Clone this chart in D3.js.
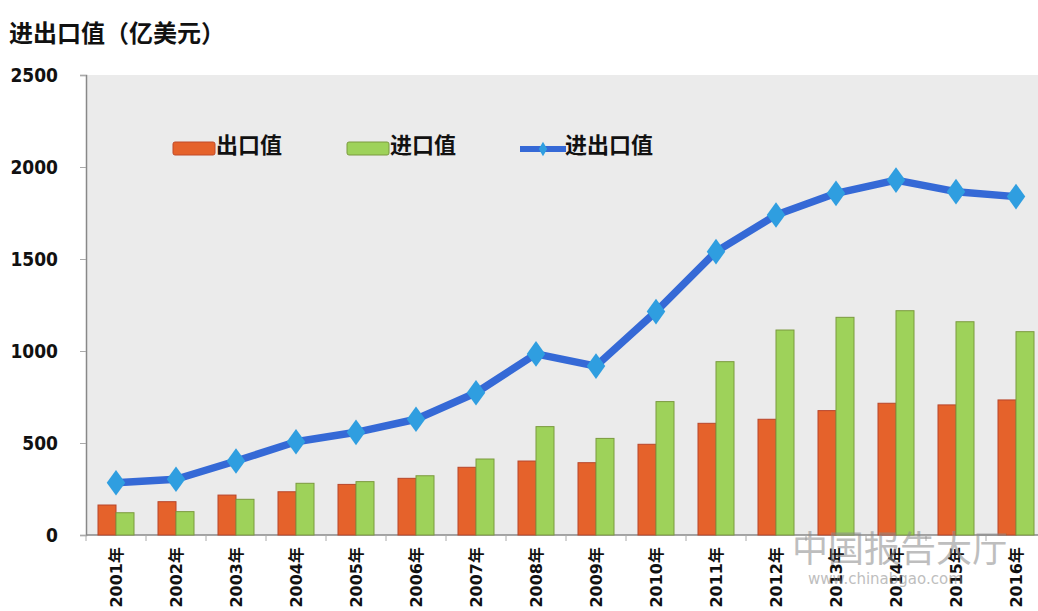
<!DOCTYPE html>
<html>
<head>
<meta charset="utf-8">
<script src="https://cdn.jsdelivr.net/npm/d3@7"></script>
<style>
  body { margin: 0; background: #fff; }
  svg { display: block; }
</style>
</head>
<body>
<div id="chart"></div>
<script>
const years = ['2001年', '2002年', '2003年', '2004年', '2005年', '2006年', '2007年', '2008年',
               '2009年', '2010年', '2011年', '2012年', '2013年', '2014年', '2015年', '2016年'];
const exportValues = [163, 181, 217, 235, 275, 308, 368, 402, 393, 493, 607, 629, 676, 716, 707, 734];
const importValues = [121, 127, 194, 281, 290, 322, 413, 589, 525, 725, 942, 1114, 1183, 1219, 1159, 1105];
const totalValues = [284, 303, 402, 507, 558, 629, 773, 984, 918, 1214, 1540, 1739, 1857, 1929, 1866, 1839];
const yTicks = [0, 500, 1000, 1500, 2000, 2500];

const width = 1038, height = 611;
const plotLeft = 86, plotTop = 75, plotBottom = 535;

const svg = d3.select('#chart').append('svg')
    .attr('width', width)
    .attr('height', height);

const x = d3.scaleBand().domain(years).range([plotLeft, plotLeft + 960]).padding(0);
const y = d3.scaleLinear().domain([0, 2500]).range([plotBottom, plotTop]);

const cjk = '"Noto Sans CJK SC", "Noto Sans", sans-serif';

// plot background
svg.append('rect')
    .attr('x', plotLeft).attr('y', plotTop)
    .attr('width', width - plotLeft).attr('height', plotBottom - plotTop)
    .attr('fill', '#ebebeb');

// title
svg.append('text')
    .attr('x', 9).attr('y', 42)
    .style('font-family', cjk)
    .style('font-weight', 'bold')
    .style('font-size', '24px')
    .attr('fill', '#111')
    .text('进出口值（亿美元）');

// y axis
const yAxis = svg.append('g')
    .attr('transform', `translate(${plotLeft},0)`)
    .call(d3.axisLeft(y).tickValues(yTicks).tickSize(6).tickPadding(22).tickFormat(d3.format('d')));
yAxis.select('.domain').attr('stroke', '#888').attr('stroke-width', 1.5);
yAxis.selectAll('.tick line').attr('stroke', '#aaa');
yAxis.selectAll('text')
    .style('font-family', '"DejaVu Sans Condensed", "DejaVu Sans", sans-serif')
    .style('font-weight', 'bold')
    .style('font-size', '19px')
    .attr('fill', '#111');

// x axis: ticks at category boundaries
svg.append('line')
    .attr('x1', plotLeft).attr('x2', width)
    .attr('y1', plotBottom).attr('y2', plotBottom)
    .attr('stroke', '#888').attr('stroke-width', 1.5);
svg.append('g').selectAll('line')
    .data(years)
    .join('line')
    .attr('x1', d => x(d)).attr('x2', d => x(d))
    .attr('y1', plotBottom).attr('y2', plotBottom + 6)
    .attr('stroke', '#aaa');

svg.append('g').selectAll('text')
    .data(years)
    .join('text')
    .attr('transform', d => `translate(${x(d) + x.bandwidth() / 2 + 6},547) rotate(-90)`)
    .attr('text-anchor', 'end')
    .style('font-family', '"DejaVu Sans", ' + cjk)
    .style('font-weight', 'bold')
    .style('font-size', '16px')
    .attr('fill', '#111')
    .text(d => d);

// bars
const barW = 18;
const bars = svg.append('g');
bars.selectAll('.exp')
    .data(exportValues)
    .join('rect')
    .attr('class', 'exp')
    .attr('x', (d, i) => x(years[i]) + x.bandwidth() / 2 - barW)
    .attr('y', d => y(d))
    .attr('width', barW)
    .attr('height', d => plotBottom - y(d))
    .attr('fill', '#e5622b')
    .attr('stroke', '#b8452a')
    .attr('stroke-width', 1);
bars.selectAll('.imp')
    .data(importValues)
    .join('rect')
    .attr('class', 'imp')
    .attr('x', (d, i) => x(years[i]) + x.bandwidth() / 2)
    .attr('y', d => y(d))
    .attr('width', barW)
    .attr('height', d => plotBottom - y(d))
    .attr('fill', '#9ed25a')
    .attr('stroke', '#7b9a3e')
    .attr('stroke-width', 1);

// total line
const line = d3.line()
    .x((d, i) => x(years[i]) + x.bandwidth() / 2)
    .y(d => y(d));
svg.append('path')
    .datum(totalValues)
    .attr('d', line)
    .attr('fill', 'none')
    .attr('stroke', '#3569d6')
    .attr('stroke-width', 7.5)
    .attr('stroke-linejoin', 'round');

const diamond = d3.symbol().type(d3.symbolDiamond).size(190);
svg.append('g').selectAll('path')
    .data(totalValues)
    .join('path')
    .attr('transform', (d, i) => `translate(${x(years[i]) + x.bandwidth() / 2},${y(d)}) scale(1.25,1)`)
    .attr('d', diamond)
    .attr('fill', '#2f9ee0');

// legend
const legend = svg.append('g').style('font-family', cjk).style('font-weight', 'bold').style('font-size', '22px');
legend.append('rect').attr('x', 173).attr('y', 142).attr('width', 42).attr('height', 13).attr('rx', 2)
    .attr('fill', '#e5622b').attr('stroke', '#c04a2a');
legend.append('text').attr('x', 216).attr('y', 153).attr('fill', '#111').text('出口值');
legend.append('rect').attr('x', 347).attr('y', 142).attr('width', 42).attr('height', 13).attr('rx', 2)
    .attr('fill', '#9ed25a').attr('stroke', '#7b9a3e');
legend.append('text').attr('x', 390).attr('y', 153).attr('fill', '#111').text('进口值');
legend.append('line').attr('x1', 520).attr('x2', 566).attr('y1', 149).attr('y2', 149)
    .attr('stroke', '#3569d6').attr('stroke-width', 6);
legend.append('path').attr('transform', 'translate(543,149)').attr('d', d3.symbol().type(d3.symbolDiamond).size(60))
    .attr('fill', '#2f9ee0');
legend.append('text').attr('x', 565).attr('y', 153).attr('fill', '#111').text('进出口值');

// watermark
const wm = svg.append('g').attr('opacity', 0.55).style('pointer-events', 'none');
wm.append('text').attr('x', 792).attr('y', 562)
    .style('font-family', cjk).style('font-size', '36px').attr('fill', '#8a8a8a').text('中国报告大厅');
wm.append('text').attr('x', 808).attr('y', 584)
    .style('font-family', '"DejaVu Sans", sans-serif').style('font-size', '15px').attr('fill', '#8a8a8a')
    .text('www.chinabgao.com');
</script>
</body>
</html>
